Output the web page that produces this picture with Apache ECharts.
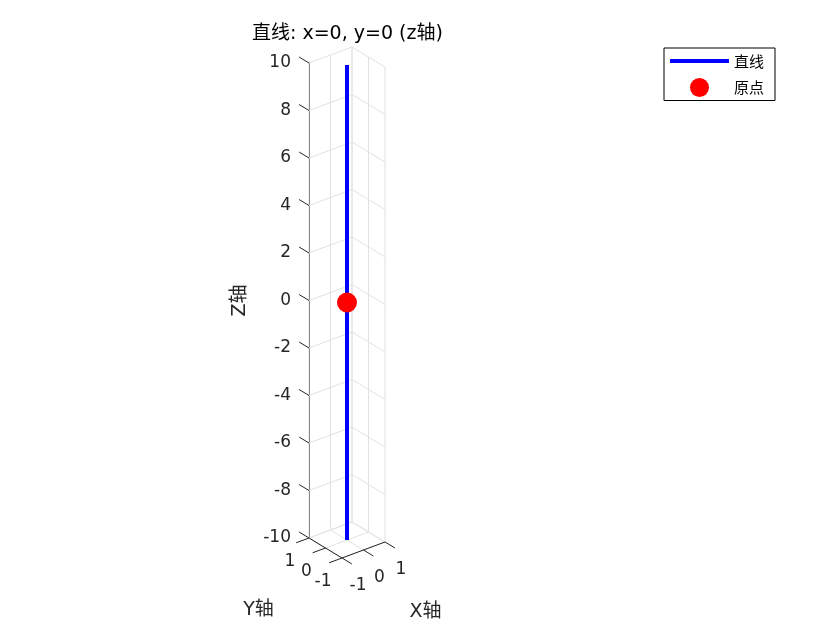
<!DOCTYPE html>
<html>
<head>
<meta charset="utf-8">
<script src="https://cdn.jsdelivr.net/npm/echarts@6/dist/echarts.min.js"></script>
<style>html,body{margin:0;padding:0;background:#fff}#c{width:840px;height:630px}</style>
</head>
<body>
<div id="c"></div>
<script>
// ---- data ----
const titleText = '直线: x=0, y=0 (z轴)';
const xTicks = [-1, 0, 1];
const yTicks = [-1, 0, 1];
const zTicks = [-10, -8, -6, -4, -2, 0, 2, 4, 6, 8, 10];
const lineX = [0, 0];
const lineY = [0, 0];
const lineZ = [-10, 10];
const originPt = [0, 0, 0];
const seriesNames = ['直线', '原点'];
const axisNames = ['X轴', 'Y轴', 'Z轴'];

// ---- view (projection of MATLAB 3-D axes onto the page) ----
const VIEW = { ex: [21.5, -8], ey: [-16.5, -10], zPx: 23.75, tick: 0.6 };
const xMin = xTicks[0], xMax = xTicks[xTicks.length - 1];
const yMin = yTicks[0], yMax = yTicks[yTicks.length - 1];
const zMin = zTicks[0], zMax = zTicks[zTicks.length - 1];
function proj(x, y, z) {
  const dx = x - xMin, dy = y - yMax;
  const h = VIEW.ex[0] * dx + VIEW.ey[0] * dy;
  const v = -(VIEW.ex[1] * dx + VIEW.ey[1] * dy);
  return [h, z + v / VIEW.zPx];
}

const AX = '#262626', GRID = '#e2e2e2';
const FONT = 'DejaVu Sans, Noto Sans CJK SC, sans-serif';

// grid segments
const gridSegs = [];
zTicks.forEach(z => {
  gridSegs.push([xMin, yMax, z, xMax, yMax, z]);
  gridSegs.push([xMax, yMin, z, xMax, yMax, z]);
});
xTicks.forEach(x => {
  gridSegs.push([x, yMax, zMin, x, yMax, zMax]);
  gridSegs.push([x, yMin, zMin, x, yMax, zMin]);
});
yTicks.forEach(y => {
  gridSegs.push([xMax, y, zMin, xMax, y, zMax]);
  gridSegs.push([xMin, y, zMin, xMax, y, zMin]);
});
// axis lines and ticks
const axisSegs = [
  [xMin, yMin, zMin, xMin, yMax, zMin],
  [xMin, yMin, zMin, xMax, yMin, zMin]
];
const t = VIEW.tick;
zTicks.forEach(z => axisSegs.push([xMin, yMax, z, xMin, yMax + t, z]));
yTicks.forEach(y => axisSegs.push([xMin, y, zMin, xMin - t, y, zMin]));
xTicks.forEach(x => axisSegs.push([x, yMin, zMin, x, yMin - t, zMin]));

// tick labels and axis titles
const labelItems = [];
xTicks.forEach(x => labelItems.push({ p: [x, yMin, zMin], text: String(x), kind: 'x' }));
yTicks.forEach(y => labelItems.push({ p: [xMin, y, zMin], text: String(y), kind: 'y' }));
labelItems.push({ p: [(xMin + xMax) / 2, yMin, zMin], text: axisNames[0], kind: 'X' });
labelItems.push({ p: [xMin, (yMin + yMax) / 2, zMin], text: axisNames[1], kind: 'Y' });
const LABEL_OFF = { x: [16, 28], y: [-19, 24], X: [62, 62], Y: [-67, 62] };

function segRender(color) {
  return function (params, api) {
    const a = api.coord(proj(api.value(0), api.value(1), api.value(2)));
    const b = api.coord(proj(api.value(3), api.value(4), api.value(5)));
    return { type: 'line', shape: { x1: a[0], y1: a[1], x2: b[0], y2: b[1] },
      style: { stroke: color, lineWidth: 1 } };
  };
}
function textRender(params, api) {
  const it = labelItems[params.dataIndex];
  const p = api.coord(proj(api.value(0), api.value(1), api.value(2)));
  const off = LABEL_OFF[it.kind];
  const big = it.kind === 'X' || it.kind === 'Y';
  return { type: 'text', x: p[0] + off[0], y: p[1] + off[1],
    style: { text: it.text, fill: AX, font: (big ? 19 : 17) + 'px ' + FONT,
      textAlign: 'center', textVerticalAlign: 'middle' } };
}

const chart = echarts.init(document.getElementById('c'), null, { renderer: 'canvas' });
chart.setOption({
  animation: false,
  backgroundColor: '#fff',
  title: { text: titleText, left: 247, top: 20,
    textStyle: { fontSize: 19, fontWeight: 'normal', color: '#000', fontFamily: FONT } },
  legend: {
    orient: 'vertical', left: 664, top: 48,
    padding: [3.5, 11, 3.5, 6], itemGap: 7.5, itemWidth: 59, itemHeight: 19,
    borderColor: '#000', borderWidth: 1, backgroundColor: '#fff',
    textStyle: { fontSize: 15, color: '#000', fontFamily: 'Noto Sans CJK SC' },
    data: [
      { name: seriesNames[0], icon: 'path://M0,0M0,19M0,7.5H59V11.5H0Z' },
      { name: seriesNames[1], icon: 'circle' }
    ]
  },
  grid: { left: 309, top: 63, width: 200, height: 475 },
  xAxis: { type: 'value', min: 0, max: 200, show: false },
  yAxis: {
    type: 'value', min: zMin, max: zMax, interval: 2,
    name: axisNames[2], nameLocation: 'middle', nameRotate: 90, nameGap: 59,
    nameTextStyle: { fontSize: 19, color: AX, fontFamily: FONT },
    axisLine: { show: true, lineStyle: { color: AX, width: 1 } },
    axisTick: { show: false },
    splitLine: { show: false },
    axisLabel: { fontSize: 17, color: AX, margin: 18, fontFamily: FONT, padding: [0, 0, 15, 0] }
  },
  series: [
    { type: 'custom', name: 'grid', silent: true, renderItem: segRender(GRID), data: gridSegs, z: 1 },
    { type: 'custom', name: 'axes', silent: true, renderItem: segRender(AX), data: axisSegs, z: 2 },
    { type: 'custom', name: 'labels', silent: true, renderItem: textRender,
      data: labelItems.map(it => it.p), z: 2 },
    { type: 'line', name: seriesNames[0], clip: false, symbol: 'none',
      lineStyle: { color: '#0000ff', width: 4 }, itemStyle: { color: '#0000ff' },
      data: lineZ.map((z, i) => proj(lineX[i], lineY[i], z)), z: 3 },
    { type: 'scatter', name: seriesNames[1], symbol: 'circle', symbolSize: 20,
      itemStyle: { color: '#ff0000', opacity: 1 },
      data: [proj(originPt[0], originPt[1], originPt[2])], z: 4 }
  ]
});
</script>
</body>
</html>
